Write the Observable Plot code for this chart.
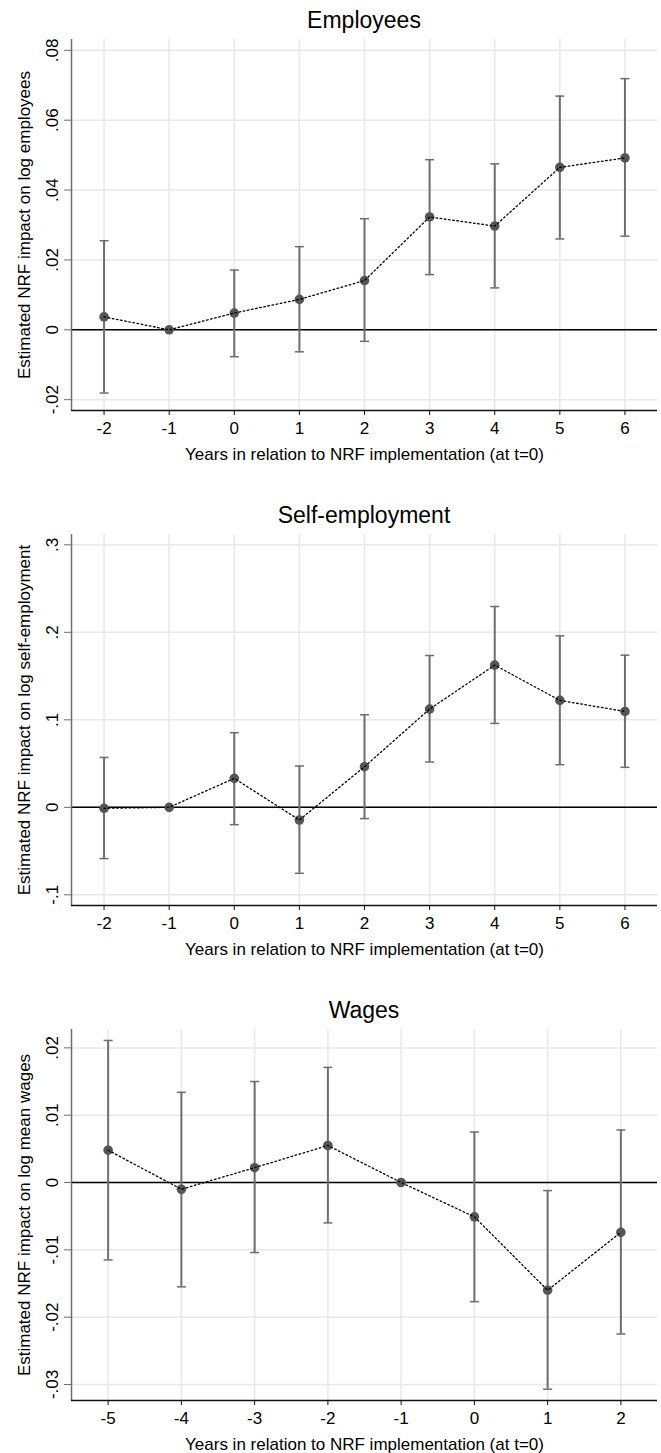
<!DOCTYPE html>
<html>
<head>
<meta charset="utf-8">
<script src="https://cdn.jsdelivr.net/npm/d3@7"></script>
<script src="https://cdn.jsdelivr.net/npm/@observablehq/plot@0.6"></script>
<style>
  html, body { margin: 0; padding: 0; background: #fff; }
  #root { position: relative; width: 661px; height: 1453px; background: #fff; overflow: hidden; }
  .panel { position: absolute; left: 0; }
  .title { position: absolute; left: 71px; width: 586px; text-align: center; font-family: "Liberation Sans", Arial, sans-serif; font-size: 23px; line-height: 1; color: #000; }
</style>
</head>
<body>
<div id="root"></div>
<script>
// ---------------- data ----------------
const titles = ["Employees", "Self-employment", "Wages"];
const xLabel = "Years in relation to NRF implementation (at t=0)";
const yLabels = [
  "Estimated NRF impact on log employees",
  "Estimated NRF impact on log self-employment",
  "Estimated NRF impact on log mean wages"
];

const empYears = [-2, -1, 0, 1, 2, 3, 4, 5, 6];
const empCoef  = [0.0037, 0, 0.0048, 0.0087, 0.0141, 0.0323, 0.0297, 0.0465, 0.0492];
const empLo    = [-0.0181, 0, -0.0077, -0.0063, -0.0033, 0.0158, 0.0120, 0.0260, 0.0268];
const empHi    = [0.0255, 0, 0.0171, 0.0238, 0.0318, 0.0487, 0.0475, 0.0669, 0.0719];
const empYTicks = [-0.02, 0, 0.02, 0.04, 0.06, 0.08];
const empXDomain = [-2.5, 6.5];
const empYDomain = [-0.0231, 0.0831];

const selfYears = [-2, -1, 0, 1, 2, 3, 4, 5, 6];
const selfCoef  = [-0.0011, 0, 0.0331, -0.0145, 0.0464, 0.1123, 0.1625, 0.1222, 0.1096];
const selfLo    = [-0.0586, 0, -0.0198, -0.0754, -0.0129, 0.0518, 0.0959, 0.0487, 0.0457];
const selfHi    = [0.0570, 0, 0.0853, 0.0472, 0.1058, 0.1735, 0.2295, 0.1960, 0.1739];
const selfYTicks = [-0.1, 0, 0.1, 0.2, 0.3];
const selfXDomain = [-2.5, 6.5];
const selfYDomain = [-0.1122, 0.3118];

const wageYears = [-5, -4, -3, -2, -1, 0, 1, 2];
const wageCoef  = [0.0048, -0.0010, 0.0022, 0.0055, 0, -0.0051, -0.0160, -0.0074];
const wageLo    = [-0.0115, -0.0155, -0.0104, -0.0060, 0, -0.0177, -0.0307, -0.0225];
const wageHi    = [0.0211, 0.0134, 0.0150, 0.0171, 0, 0.0075, -0.0012, 0.0078];
const wageYTicks = [-0.03, -0.02, -0.01, 0, 0.01, 0.02];
const wageXDomain = [-5.5, 2.5];
const wageYDomain = [-0.03238, 0.02273];

// ---------------- drawing ----------------
const FONT = '"Liberation Sans", Arial, sans-serif';
const PLOT_H = 371, M_TOP = 5, M_BOTTOM = 52;
const panelTops = [34, 529, 1024];   // svg top positions

function yFmt(d) {
  if (Math.abs(d) < 1e-12) return "0";
  const s = String(+Math.abs(d).toFixed(4)).replace(/^0/, "");
  return (d < 0 ? "-" : "") + s;
}

const capSymbol = {
  draw(context, size) {
    const r = Math.sqrt(size / Math.PI);
    context.moveTo(-r, 0);
    context.lineTo(r, 0);
  }
};

function panel(years, coef, lo, hi, xDomain, yDomain, yTicks, yLabel) {
  const data = years.map((t, i) => ({t, b: coef[i], lo: lo[i], hi: hi[i]}));
  const ci = data.filter(d => d.hi !== d.lo);
  return Plot.plot({
    width: 661,
    height: M_TOP + PLOT_H + M_BOTTOM,
    marginLeft: 71, marginRight: 4, marginTop: M_TOP, marginBottom: M_BOTTOM,
    style: {fontFamily: FONT, fontSize: "17px", color: "#000", background: "transparent", overflow: "visible"},
    x: {domain: xDomain},
    y: {domain: yDomain},
    marks: [
      Plot.gridX(years, {stroke: "#e8e8e8", strokeOpacity: 1, strokeWidth: 1.5}),
      Plot.gridY(yTicks, {stroke: "#e8e8e8", strokeOpacity: 1, strokeWidth: 1.5}),
      Plot.ruleY([0], {stroke: "#000", strokeWidth: 1.5}),
      Plot.ruleX([xDomain[0]], {stroke: "#6e6e6e", strokeWidth: 1.5}),
      Plot.ruleY([yDomain[0]], {stroke: "#111", strokeWidth: 1.3}),
      Plot.ruleX(ci, {x: "t", y1: "lo", y2: "hi", stroke: "#6e6e6e", strokeWidth: 2}),
      Plot.dot(ci, {x: "t", y: "hi", symbol: capSymbol, r: 4.5, stroke: "#6e6e6e", strokeWidth: 1.5, fill: "none"}),
      Plot.dot(ci, {x: "t", y: "lo", symbol: capSymbol, r: 4.5, stroke: "#6e6e6e", strokeWidth: 1.5, fill: "none"}),
      Plot.dot(data, {x: "t", y: "b", r: 4.8, fill: "#555", stroke: "none"}),
      Plot.line(data, {x: "t", y: "b", stroke: "#000", strokeWidth: 1.3, strokeDasharray: "1.6,2.6"}),
      Plot.axisX({ticks: years, tickSize: 5, tickPadding: 6, tickFormat: d => String(d), stroke: "#111", fill: "#000",
        label: xLabel, labelAnchor: "center", labelOffset: 49, labelArrow: "none"}),
      Plot.axisY({ticks: yTicks, tickSize: 7, tickPadding: 7, tickRotate: -90, tickFormat: yFmt, stroke: "#6e6e6e", fill: "#000",
        label: yLabel, labelAnchor: "center", labelOffset: 54, labelArrow: "none"})
    ]
  });
}

const root = document.getElementById("root");
const specs = [
  [empYears, empCoef, empLo, empHi, empXDomain, empYDomain, empYTicks],
  [selfYears, selfCoef, selfLo, selfHi, selfXDomain, selfYDomain, selfYTicks],
  [wageYears, wageCoef, wageLo, wageHi, wageXDomain, wageYDomain, wageYTicks]
];
specs.forEach((s, i) => {
  const svg = panel(...s, yLabels[i]);
  const wrap = document.createElement("div");
  wrap.className = "panel";
  wrap.style.top = panelTops[i] + "px";
  wrap.appendChild(svg);
  root.appendChild(wrap);
  const title = document.createElement("div");
  title.className = "title";
  const plotTop = panelTops[i] + M_TOP;
  title.style.top = (plotTop - 11 - 0.8465 * 23) + "px";
  title.textContent = titles[i];
  root.appendChild(title);
});
</script>
</body>
</html>
